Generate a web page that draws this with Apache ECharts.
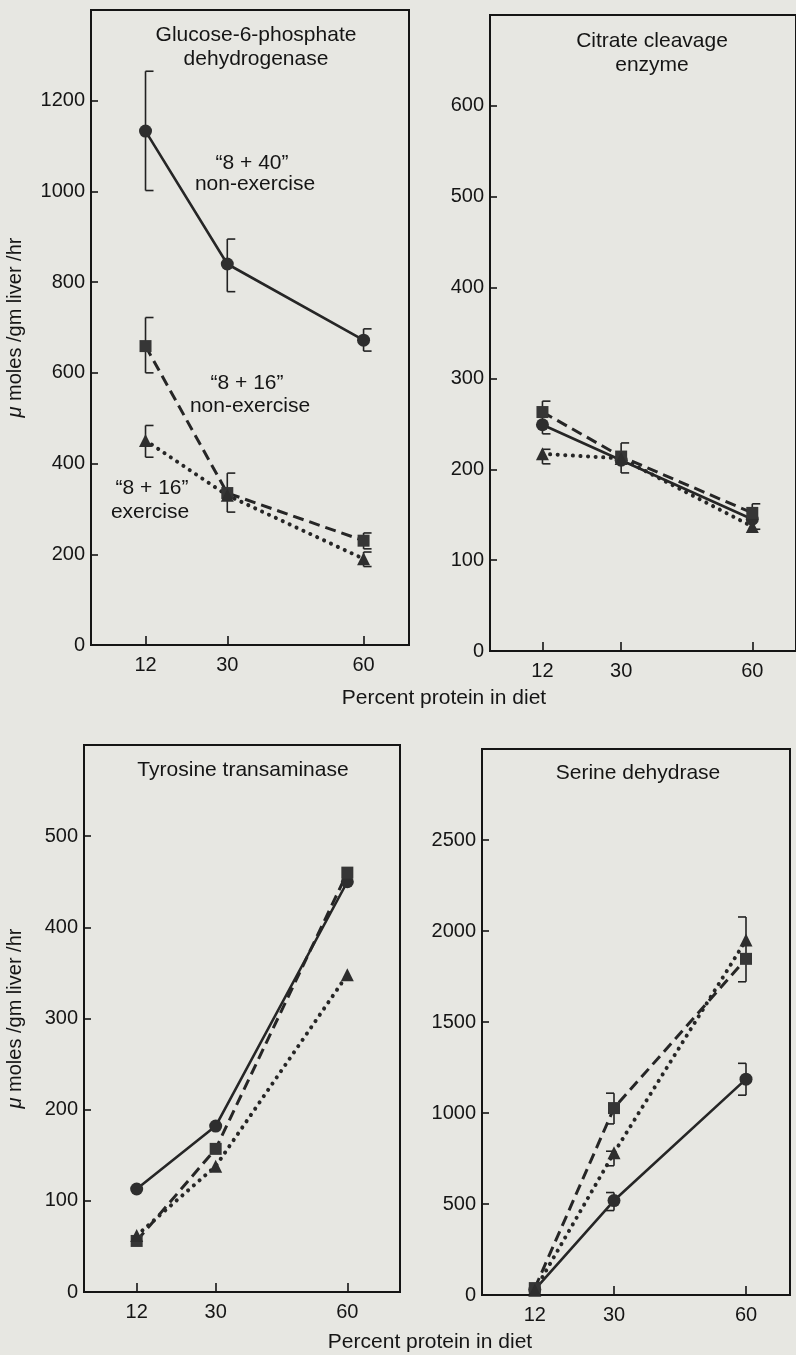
<!DOCTYPE html>
<html>
<head>
<meta charset="utf-8">
<script src="https://cdn.jsdelivr.net/npm/echarts@6/dist/echarts.min.js"></script>
<style>
html,body{margin:0;padding:0;background:#e7e7e2;}
#chart{width:796px;height:1355px;}
</style>
</head>
<body>
<div id="chart"></div>
<script>
// ---- data ----
const proteinLevels = [12, 30, 60];
const xTickValues = [12, 30, 60];

// Glucose-6-phosphate dehydrogenase
const g6pdCircle = [1133, 840, 672];
const g6pdCircleErr = [[1002, 1265], [779, 895], [648, 697]];
const g6pdSquare = [659, 335, 230];
const g6pdSquareErr = [[600, 722], [293, 379], [212, 247]];
const g6pdTriangle = [451, 330, 190];
const g6pdTriangleErr = [[414, 484], null, [173, 205]];

// Citrate cleavage enzyme
const citCircle = [249, 210, 145];
const citCircleErr = [null, [196, 229], null];
const citSquare = [263, 214, 152];
const citSquareErr = [[239, 275], null, [134, 162]];
const citTriangle = [217, 212, 137];
const citTriangleErr = [[206, 222], null, null];

// Tyrosine transaminase
const tyrCircle = [113, 182, 450];
const tyrSquare = [56, 157, 460];
const tyrTriangle = [62, 138, 348];

// Serine dehydrase
const serCircle = [30, 519, 1186];
const serCircleErr = [null, [464, 563], [1098, 1273]];
const serSquare = [38, 1027, 1847];
const serSquareErr = [null, [940, 1109], null];
const serTriangle = [26, 781, 1950];
const serTriangleErr = [null, [710, 790], [1721, 2077]];

const yTitle = '{i|\u03bc} moles /gm liver /hr';

// ---- styling ----
const FONT = '"Liberation Sans", Arial, Helvetica, sans-serif';
const INK = '#151515';
const LINE = '#262626';

const panels = [
  {left: 91, top: 10, width: 318, height: 635, xmax: 70, ymax: 1400, yint: 200},
  {left: 490, top: 15, width: 308, height: 636, xmax: 70, ymax: 700, yint: 100},
  {left: 84, top: 745, width: 316, height: 547, xmax: 72, ymax: 600, yint: 100},
  {left: 482, top: 749, width: 308, height: 546, xmax: 70, ymax: 3000, yint: 500}
];

const grids = panels.map(p => ({
  left: p.left, top: p.top, width: p.width, height: p.height,
  show: true, borderColor: '#151515', borderWidth: 2, backgroundColor: 'transparent'
}));

const xAxes = panels.map((p, i) => ({
  type: 'value', gridIndex: i, min: 0, max: p.xmax,
  splitLine: {show: false},
  axisLine: {show: true, onZero: false, lineStyle: {color: '#151515', width: 2}},
  axisTick: {show: true, inside: true, length: 9, customValues: xTickValues,
             lineStyle: {color: '#151515', width: 1.6}},
  axisLabel: {show: true, customValues: xTickValues, margin: 10,
              color: INK, fontFamily: FONT, fontSize: 20, formatter: v => String(v)}
}));

const yAxes = panels.map((p, i) => {
  const ax = {
    type: 'value', gridIndex: i, min: 0, max: p.ymax, interval: p.yint,
    splitLine: {show: false},
    axisLine: {show: true, lineStyle: {color: '#151515', width: 2}},
    axisTick: {show: true, inside: true, length: 7, lineStyle: {color: '#151515', width: 1.6}},
    axisLabel: {showMaxLabel: false, margin: 6, color: INK, fontFamily: FONT, fontSize: 20,
                formatter: v => String(v)}
  };
  if (i === 0 || i === 2) {
    ax.name = yTitle;
    ax.nameLocation = 'middle';
    ax.nameGap = p.left - 25;
    ax.nameRotate = 90;
    ax.nameTextStyle = {color: INK, fontFamily: FONT, fontSize: 20,
      rich: {i: {fontStyle: 'italic', fontFamily: FONT, fontSize: 20, color: INK}}};
  }
  return ax;
});

function pairs(vals) { return proteinLevels.map((x, i) => [x, vals[i]]); }

function lineSeries(idx, vals, kind) {
  const base = {type: 'line', xAxisIndex: idx, yAxisIndex: idx, data: pairs(vals),
    z: 3, silent: true, animation: false};
  if (kind === 'circle') {
    return Object.assign(base, {symbol: 'circle', symbolSize: 13,
      itemStyle: {color: '#2e2e2e'}, lineStyle: {color: LINE, width: 2.6, type: 'solid'}});
  }
  if (kind === 'square') {
    return Object.assign(base, {symbol: 'rect', symbolSize: 12,
      itemStyle: {color: '#363636'}, lineStyle: {color: LINE, width: 3, type: [11, 6]}});
  }
  return Object.assign(base, {symbol: 'triangle', symbolSize: 13,
    itemStyle: {color: '#2e2e2e'}, lineStyle: {color: LINE, width: 4, type: [0.1, 7.5], cap: 'round'}});
}

function errSeries(idx, err, side) {
  const data = [];
  proteinLevels.forEach((x, i) => { if (err[i]) data.push([x, err[i][0], err[i][1]]); });
  return {
    type: 'custom', xAxisIndex: idx, yAxisIndex: idx, data: data, z: 2,
    silent: true, animation: false,
    encode: {x: 0, y: [1, 2]},
    renderItem: function (params, api) {
      const x = api.value(0);
      const lo = api.coord([x, api.value(1)]);
      const hi = api.coord([x, api.value(2)]);
      const c = 8 * side;
      const st = {stroke: '#222', lineWidth: 1.6, fill: null};
      return {type: 'group', children: [
        {type: 'line', shape: {x1: lo[0], y1: lo[1], x2: hi[0], y2: hi[1]}, style: st},
        {type: 'line', shape: {x1: lo[0], y1: lo[1], x2: lo[0] + c, y2: lo[1]}, style: st},
        {type: 'line', shape: {x1: hi[0], y1: hi[1], x2: hi[0] + c, y2: hi[1]}, style: st}
      ]};
    }
  };
}

const series = [
  errSeries(0, g6pdCircleErr, 1), errSeries(0, g6pdSquareErr, 1), errSeries(0, g6pdTriangleErr, 1),
  lineSeries(0, g6pdCircle, 'circle'), lineSeries(0, g6pdSquare, 'square'), lineSeries(0, g6pdTriangle, 'triangle'),
  errSeries(1, citCircleErr, 1), errSeries(1, citSquareErr, 1), errSeries(1, citTriangleErr, 1),
  lineSeries(1, citCircle, 'circle'), lineSeries(1, citSquare, 'square'), lineSeries(1, citTriangle, 'triangle'),
  lineSeries(2, tyrCircle, 'circle'), lineSeries(2, tyrSquare, 'square'), lineSeries(2, tyrTriangle, 'triangle'),
  errSeries(3, serCircleErr, -1), errSeries(3, serSquareErr, -1), errSeries(3, serTriangleErr, -1),
  lineSeries(3, serCircle, 'circle'), lineSeries(3, serSquare, 'square'), lineSeries(3, serTriangle, 'triangle')
];

function txt(x, y, s, size) {
  return {type: 'text', x: x, y: y, silent: true, z: 10,
    style: {text: s, fill: INK, font: (size || 21) + 'px ' + FONT, textAlign: 'center', textVerticalAlign: 'middle'}};
}

const graphics = [
  txt(256, 35, 'Glucose-6-phosphate'),
  txt(256, 59, 'dehydrogenase'),
  txt(652, 41, 'Citrate cleavage'),
  txt(652, 65, 'enzyme'),
  txt(243, 770, 'Tyrosine transaminase'),
  txt(638, 773, 'Serine dehydrase'),
  txt(252, 163, '\u201c8 + 40\u201d'),
  txt(255, 184, 'non-exercise'),
  txt(247, 383, '\u201c8 + 16\u201d'),
  txt(250, 406, 'non-exercise'),
  txt(152, 488, '\u201c8 + 16\u201d'),
  txt(150, 512, 'exercise'),
  txt(444, 698, 'Percent protein in diet'),
  txt(430, 1342, 'Percent protein in diet')
];

const chart = echarts.init(document.getElementById('chart'), null, {renderer: 'canvas'});
chart.setOption({
  backgroundColor: '#e7e7e2',
  animation: false,
  grid: grids,
  xAxis: xAxes,
  yAxis: yAxes,
  series: series,
  graphic: graphics
});
</script>
</body>
</html>
